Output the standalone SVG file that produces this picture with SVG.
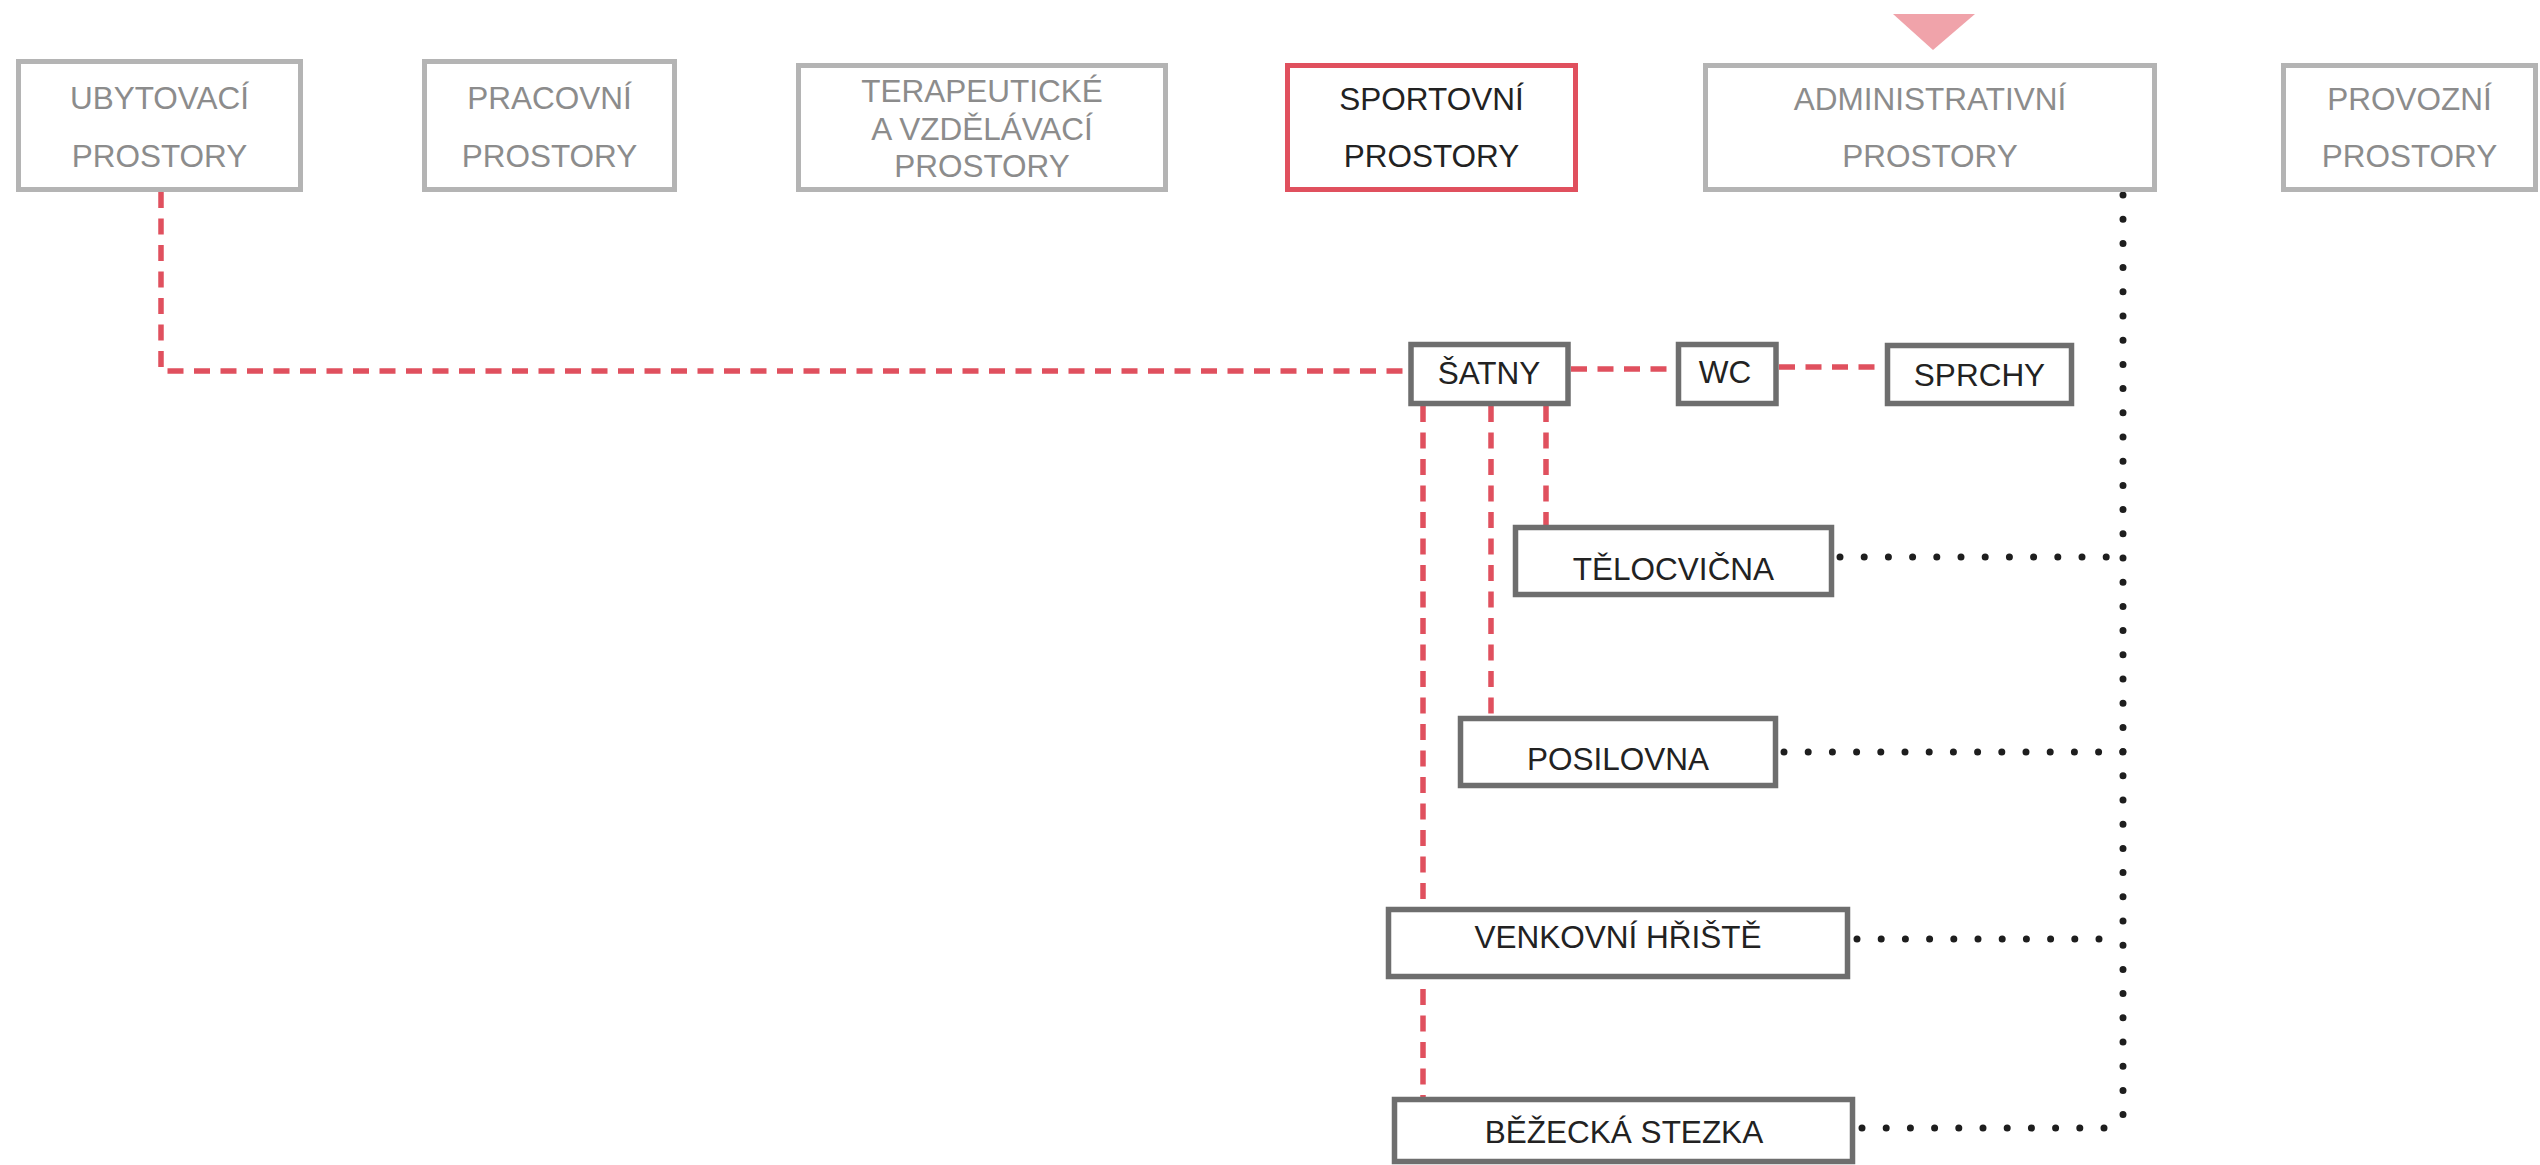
<svg xmlns="http://www.w3.org/2000/svg" width="2540" height="1165" viewBox="0 0 2540 1165">
<style>
  .gbox{fill:#fff;stroke:#b4b4b4;stroke-width:5}
  .rbox{fill:#fff;stroke:#e0505e;stroke-width:5}
  .dbox{fill:#fff;stroke:#6e6e6e;stroke-width:5.5}
  text{font-family:"Liberation Sans",Arial,Helvetica,sans-serif;font-size:31.5px;text-anchor:middle}
  .gt{fill:#8c8c8c}
  .dt{fill:#222}
  .red{fill:none;stroke:#e0505e;stroke-width:5.5;stroke-dasharray:16 10.5}
  .dot{fill:none;stroke:#1e1e1e;stroke-width:7;stroke-linecap:round;stroke-dasharray:0 24.2}
</style>
<rect width="2540" height="1165" fill="#fff"/>
<g id="connectors">
  <path class="red" d="M161,192 V371 H1408"/>
  <path class="red" d="M1571,369 H1676"/>
  <path class="red" d="M1779,367 H1885"/>
  <path class="red" d="M1546,406 V525"/>
  <path class="red" d="M1491,406 V716"/>
  <path class="red" d="M1423,406 V1097"/>
  <path class="dot" d="M2123,195 V1128"/>
  <path class="dot" d="M1840,557 H2123"/>
  <path class="dot" d="M1784,752 H2123"/>
  <path class="dot" d="M1857,939 H2123"/>
  <path class="dot" d="M1862,1128 H2123"/>
</g>
<g id="marker-triangle">
  <polygon points="1893,14 1975,14 1933,50" fill="#f0a3aa"/>
</g>
<g id="ubytovaci">
  <rect class="gbox" x="18.5" y="61.5" width="282" height="128"/>
  <text class="gt" x="159.5" y="109">UBYTOVACÍ</text>
  <text class="gt" x="159.5" y="167">PROSTORY</text>
</g>
<g id="pracovni">
  <rect class="gbox" x="424.5" y="61.5" width="250" height="128"/>
  <text class="gt" x="549.5" y="109">PRACOVNÍ</text>
  <text class="gt" x="549.5" y="167">PROSTORY</text>
</g>
<g id="terapeuticke">
  <rect class="gbox" x="798.5" y="65.5" width="367" height="124"/>
  <text class="gt" x="982" y="102">TERAPEUTICKÉ</text>
  <text class="gt" x="982" y="140">A VZDĚLÁVACÍ</text>
  <text class="gt" x="982" y="177">PROSTORY</text>
</g>
<g id="sportovni">
  <rect class="rbox" x="1287.5" y="65.5" width="288" height="124"/>
  <text class="dt" x="1431.5" y="110">SPORTOVNÍ</text>
  <text class="dt" x="1431.5" y="167">PROSTORY</text>
</g>
<g id="administrativni">
  <rect class="gbox" x="1705.5" y="65.5" width="449" height="124"/>
  <text class="gt" x="1930" y="110">ADMINISTRATIVNÍ</text>
  <text class="gt" x="1930" y="167">PROSTORY</text>
</g>
<g id="provozni">
  <rect class="gbox" x="2283.5" y="65.5" width="252" height="124"/>
  <text class="gt" x="2409.5" y="110">PROVOZNÍ</text>
  <text class="gt" x="2409.5" y="167">PROSTORY</text>
</g>
<g id="satny">
  <rect class="dbox" x="1411" y="344.5" width="157" height="59"/>
  <text class="dt" x="1489" y="384">ŠATNY</text>
</g>
<g id="wc">
  <rect class="dbox" x="1678.5" y="344.5" width="97.5" height="59"/>
  <text class="dt" x="1725" y="383">WC</text>
</g>
<g id="sprchy">
  <rect class="dbox" x="1887.5" y="345.5" width="184" height="58"/>
  <text class="dt" x="1979.5" y="386">SPRCHY</text>
</g>
<g id="telocvicna">
  <rect class="dbox" x="1515.5" y="527.5" width="316" height="67"/>
  <text class="dt" x="1673.5" y="580">TĚLOCVIČNA</text>
</g>
<g id="posilovna">
  <rect class="dbox" x="1460.5" y="718.5" width="315" height="67"/>
  <text class="dt" x="1618" y="770">POSILOVNA</text>
</g>
<g id="venkovni-hriste">
  <rect class="dbox" x="1388.5" y="909.5" width="459" height="67"/>
  <text class="dt" x="1618" y="948">VENKOVNÍ HŘIŠTĚ</text>
</g>
<g id="bezecka-stezka">
  <rect class="dbox" x="1394.5" y="1099.5" width="458" height="62"/>
  <text class="dt" x="1624" y="1143">BĚŽECKÁ STEZKA</text>
</g>
</svg>
